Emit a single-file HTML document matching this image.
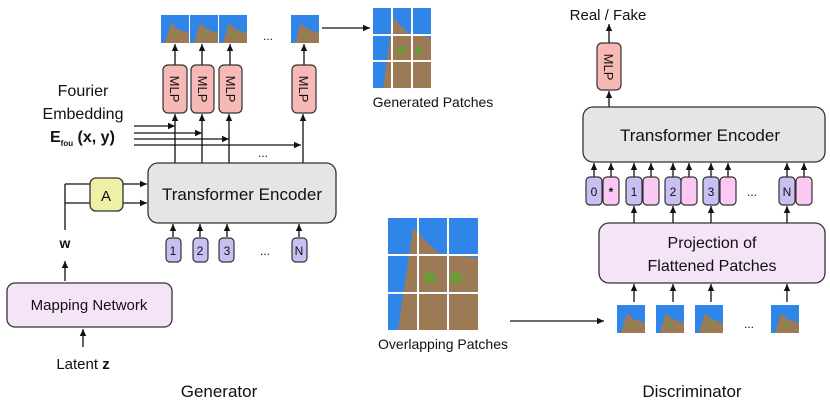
<!DOCTYPE html>
<html><head><meta charset="utf-8"><style>body{margin:0;background:#fff}svg{display:block}text{font-family:"Liberation Sans",sans-serif;fill:#111}</style></head><body>
<svg width="830" height="407" viewBox="0 0 830 407" xmlns="http://www.w3.org/2000/svg">
<defs>
<marker id="a" markerWidth="8" markerHeight="8" refX="7" refY="4" orient="auto" markerUnits="userSpaceOnUse"><path d="M0,0.8 L7,4 L0,7.2 z" fill="#111"/></marker>
<g id="p"><rect width="28" height="28" fill="#2f86e8"/><path d="M4,28 L10,8 L16,14 L28,18 L28,28z" fill="#9b7a55"/><circle cx="14" cy="20" r="2" fill="#6c9b3a"/></g>
</defs>
<g stroke="#111" stroke-width="1.3" fill="none">
<!-- generator top patches -->
<line x1="175" y1="65" x2="175" y2="44" marker-end="url(#a)"/>
<line x1="202" y1="65" x2="202" y2="44" marker-end="url(#a)"/>
<line x1="230" y1="65" x2="230" y2="44" marker-end="url(#a)"/>
<line x1="304" y1="65" x2="304" y2="44" marker-end="url(#a)"/>
<line x1="322" y1="28" x2="370" y2="28" marker-end="url(#a)"/>
<line x1="175" y1="163" x2="175" y2="114" marker-end="url(#a)"/>
<line x1="202" y1="163" x2="202" y2="114" marker-end="url(#a)"/>
<line x1="229" y1="163" x2="229" y2="114" marker-end="url(#a)"/>
<line x1="303" y1="163" x2="303" y2="114" marker-end="url(#a)"/>
<line x1="134" y1="126" x2="175" y2="126" marker-end="url(#a)"/>
<line x1="134" y1="133" x2="202" y2="133" marker-end="url(#a)"/>
<line x1="134" y1="139" x2="229" y2="139" marker-end="url(#a)"/>
<line x1="134" y1="145" x2="301" y2="145" marker-end="url(#a)"/>
<line x1="65" y1="230" x2="65" y2="184"/>
<line x1="65" y1="184" x2="90" y2="184"/>
<line x1="65" y1="203" x2="90" y2="203"/>
<line x1="123" y1="184" x2="147" y2="184" marker-end="url(#a)"/>
<line x1="123" y1="203" x2="147" y2="203" marker-end="url(#a)"/>
<line x1="173" y1="237" x2="173" y2="224" marker-end="url(#a)"/>
<line x1="200" y1="237" x2="200" y2="224" marker-end="url(#a)"/>
<line x1="227" y1="237" x2="227" y2="224" marker-end="url(#a)"/>
<line x1="299" y1="237" x2="299" y2="224" marker-end="url(#a)"/>
<line x1="65" y1="281" x2="65" y2="261" marker-end="url(#a)"/>
<line x1="83" y1="347" x2="83" y2="329" marker-end="url(#a)"/>
<line x1="510" y1="321" x2="604" y2="321" marker-end="url(#a)"/>
<!-- discriminator -->
<line x1="609" y1="43" x2="609" y2="24" marker-end="url(#a)"/>
<line x1="609" y1="107" x2="609" y2="91" marker-end="url(#a)"/>
<g id="dt">
<line x1="594" y1="177" x2="594" y2="163" marker-end="url(#a)"/>
<line x1="611" y1="177" x2="611" y2="163" marker-end="url(#a)"/>
<line x1="634" y1="177" x2="634" y2="163" marker-end="url(#a)"/>
<line x1="651" y1="177" x2="651" y2="163" marker-end="url(#a)"/>
<line x1="673" y1="177" x2="673" y2="163" marker-end="url(#a)"/>
<line x1="689" y1="177" x2="689" y2="163" marker-end="url(#a)"/>
<line x1="711" y1="177" x2="711" y2="163" marker-end="url(#a)"/>
<line x1="728" y1="177" x2="728" y2="163" marker-end="url(#a)"/>
<line x1="787" y1="177" x2="787" y2="163" marker-end="url(#a)"/>
<line x1="804" y1="177" x2="804" y2="163" marker-end="url(#a)"/>
</g>
<line x1="634" y1="223" x2="634" y2="206" marker-end="url(#a)"/>
<line x1="673" y1="223" x2="673" y2="206" marker-end="url(#a)"/>
<line x1="711" y1="223" x2="711" y2="206" marker-end="url(#a)"/>
<line x1="787" y1="223" x2="787" y2="206" marker-end="url(#a)"/>
<line x1="634" y1="302" x2="634" y2="284" marker-end="url(#a)"/>
<line x1="673" y1="302" x2="673" y2="284" marker-end="url(#a)"/>
<line x1="711" y1="302" x2="711" y2="284" marker-end="url(#a)"/>
<line x1="787" y1="302" x2="787" y2="284" marker-end="url(#a)"/>
</g>
<!-- patches -->
<use href="#p" x="161" y="15"/><use href="#p" x="190" y="15"/><use href="#p" x="219" y="15"/><use href="#p" x="291" y="15"/>
<text x="268" y="40" font-size="12" text-anchor="middle">...</text>
<g transform="translate(373,8)"><rect width="58" height="80" fill="#2f86e8"/><path d="M10,80 L20,10 L35,25 L58,30 L58,80z" fill="#9b7a55"/><circle cx="28" cy="42" r="4" fill="#6c9b3a"/><circle cx="46" cy="42" r="4" fill="#6c9b3a"/><line x1="19" y1="0" x2="19" y2="80" stroke="#fff" stroke-width="2"/><line x1="39" y1="0" x2="39" y2="80" stroke="#fff" stroke-width="2"/><line x1="0" y1="27" x2="58" y2="27" stroke="#fff" stroke-width="2"/><line x1="0" y1="53" x2="58" y2="53" stroke="#fff" stroke-width="2"/></g>
<text x="433" y="107" font-size="14" text-anchor="middle">Generated Patches</text>
<g transform="translate(388,218)"><rect width="90" height="112" fill="#2f86e8"/><path d="M10,112 L25,10 L50,35 L90,40 L90,112z" fill="#9b7a55"/><circle cx="42" cy="60" r="6" fill="#6c9b3a"/><circle cx="68" cy="60" r="6" fill="#6c9b3a"/><line x1="30" y1="0" x2="30" y2="112" stroke="#fff" stroke-width="2"/><line x1="60" y1="0" x2="60" y2="112" stroke="#fff" stroke-width="2"/><line x1="0" y1="37" x2="90" y2="37" stroke="#fff" stroke-width="2"/><line x1="0" y1="75" x2="90" y2="75" stroke="#fff" stroke-width="2"/></g>
<text x="443" y="349" font-size="14" text-anchor="middle">Overlapping Patches</text>
<use href="#p" x="617" y="305" transform="translate(0,0)"/><use href="#p" x="656" y="305"/><use href="#p" x="695" y="305"/><use href="#p" x="771" y="305"/>
<text x="749" y="328" font-size="12" text-anchor="middle">...</text>
<!-- MLPs -->
<g fill="#f7b9b5" stroke="#333" stroke-width="1.2">
<rect x="163" y="65" width="24" height="48" rx="5"/><rect x="191" y="65" width="23" height="48" rx="5"/><rect x="219" y="65" width="23" height="48" rx="5"/><rect x="292" y="65" width="24" height="48" rx="5"/><rect x="597" y="43" width="24" height="47" rx="5"/>
</g>
<g font-size="13">
<text transform="translate(170,89) rotate(90)" text-anchor="middle">MLP</text>
<text transform="translate(198,89) rotate(90)" text-anchor="middle">MLP</text>
<text transform="translate(226,89) rotate(90)" text-anchor="middle">MLP</text>
<text transform="translate(299,89) rotate(90)" text-anchor="middle">MLP</text>
<text transform="translate(604,67) rotate(90)" text-anchor="middle">MLP</text>
</g>
<text x="83" y="96" font-size="16" text-anchor="middle">Fourier</text>
<text x="83" y="119" font-size="16" text-anchor="middle">Embedding</text>
<text x="50" y="142" font-size="16" font-weight="bold">E<tspan font-size="8" dy="4">fou</tspan><tspan dy="-4"> (x, y)</tspan></text>
<text x="263" y="157" font-size="12" text-anchor="middle">...</text>
<rect x="148" y="163" width="188" height="60" rx="10" fill="#e5e5e5" stroke="#333" stroke-width="1.3"/>
<text x="242" y="200" font-size="17" text-anchor="middle">Transformer Encoder</text>
<rect x="90" y="178" width="33" height="33" rx="6" fill="#eef0a8" stroke="#333" stroke-width="1.3"/>
<text x="106" y="201" font-size="15" text-anchor="middle">A</text>
<g fill="#c9bff2" stroke="#333" stroke-width="1.2">
<rect x="166" y="238" width="15" height="24" rx="4"/><rect x="193" y="238" width="15" height="24" rx="4"/><rect x="219" y="238" width="15" height="24" rx="4"/><rect x="292" y="238" width="15" height="24" rx="4"/>
</g>
<g font-size="12" text-anchor="middle"><text x="173" y="255">1</text><text x="200" y="255">2</text><text x="227" y="255">3</text><text x="299" y="255">N</text><text x="265" y="255">...</text></g>
<text x="65" y="248" font-size="14" font-weight="bold" text-anchor="middle">w</text>
<rect x="7" y="283" width="165" height="44" rx="8" fill="#f5e3f7" stroke="#333" stroke-width="1.3"/>
<text x="89" y="310" font-size="15" text-anchor="middle">Mapping  Network</text>
<text x="83" y="369" font-size="15" text-anchor="middle">Latent <tspan font-weight="bold">z</tspan></text>
<text x="219" y="397" font-size="17" text-anchor="middle">Generator</text>
<!-- discriminator -->
<text x="608" y="20" font-size="15" text-anchor="middle">Real / Fake</text>
<rect x="583" y="107" width="242" height="55" rx="10" fill="#e5e5e5" stroke="#333" stroke-width="1.3"/>
<text x="700" y="141" font-size="17" text-anchor="middle">Transformer Encoder</text>
<g stroke="#333" stroke-width="1.2">
<rect x="586" y="177" width="16" height="28" rx="4" fill="#c9bff2"/><rect x="603" y="177" width="16" height="28" rx="4" fill="#fbc9f4"/>
<rect x="626" y="177" width="16" height="28" rx="4" fill="#c9bff2"/><rect x="643" y="177" width="16" height="28" rx="4" fill="#fbc9f4"/>
<rect x="665" y="177" width="16" height="28" rx="4" fill="#c9bff2"/><rect x="681" y="177" width="16" height="28" rx="4" fill="#fbc9f4"/>
<rect x="703" y="177" width="16" height="28" rx="4" fill="#c9bff2"/><rect x="720" y="177" width="16" height="28" rx="4" fill="#fbc9f4"/>
<rect x="779" y="177" width="16" height="28" rx="4" fill="#c9bff2"/><rect x="796" y="177" width="16" height="28" rx="4" fill="#fbc9f4"/>
</g>
<g font-size="12" text-anchor="middle"><text x="594" y="196">0</text><text x="611" y="196" font-weight="bold">*</text><text x="634" y="196">1</text><text x="673" y="196">2</text><text x="711" y="196">3</text><text x="787" y="196">N</text><text x="752" y="196">...</text></g>
<rect x="599" y="223" width="226" height="60" rx="10" fill="#f5e3f7" stroke="#333" stroke-width="1.3"/>
<text x="712" y="248" font-size="16" text-anchor="middle">Projection of</text>
<text x="712" y="271" font-size="16" text-anchor="middle">Flattened Patches</text>
<text x="692" y="397" font-size="17" text-anchor="middle">Discriminator</text>
</svg>
</body></html>
